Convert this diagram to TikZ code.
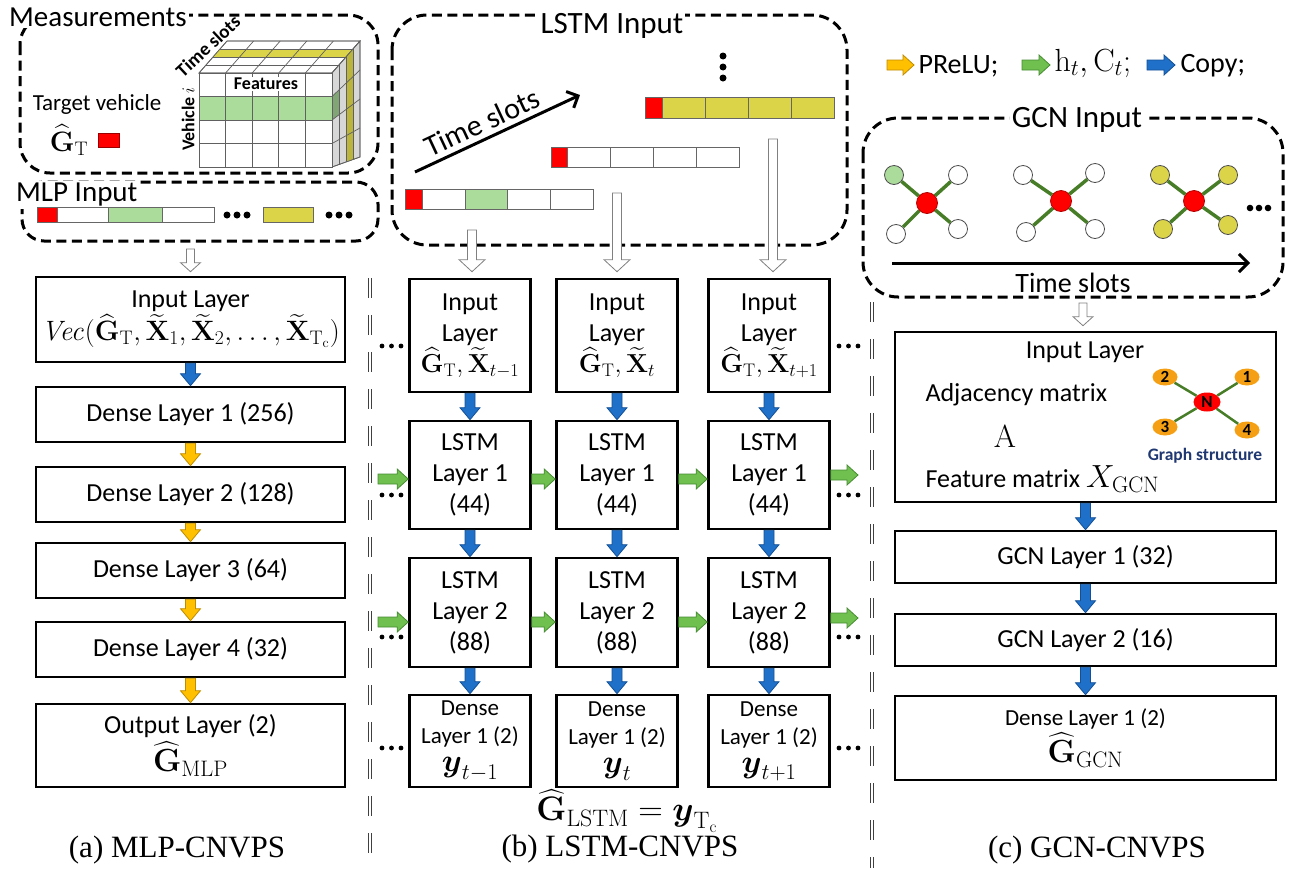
\RequirePackage{fix-cm}
\documentclass[tikz,border=0pt]{standalone}
\usepackage{amsmath}
\usepackage[no-math]{fontspec}
\setmainfont{Carlito}
\newfontfamily\capfont{Liberation Serif}
\usetikzlibrary{calc,arrows.meta,shapes.geometric}
\definecolor{cgreenc}{RGB}{172,220,156}
\definecolor{cyellc}{RGB}{220,212,72}
\definecolor{cblue}{RGB}{31,112,200}
\definecolor{cblueD}{RGB}{20,80,150}
\definecolor{cyel}{RGB}{255,192,0}
\definecolor{cyelD}{RGB}{190,140,0}
\definecolor{cgrn}{RGB}{112,192,80}
\definecolor{cgrnD}{RGB}{70,140,50}
\definecolor{edgeg}{RGB}{72,125,40}
\definecolor{corange}{RGB}{245,160,20}
\definecolor{gsblue}{RGB}{31,56,114}
\definecolor{sidegray}{RGB}{215,215,215}
\tikzset{
  bv/.style n args={3}{to path={let \p1=(\tikztostart),\p2=(\tikztotarget) in
    (\x1-#1,\y1) -- (\x1+#1,\y1) -- (\x1+#1,\y2+#3) -- (\x1+#2,\y2+#3) -- (\x1,\y2) -- (\x1-#2,\y2+#3) -- (\x1-#1,\y2+#3) -- cycle}},
  bh/.style n args={3}{to path={let \p1=(\tikztostart),\p2=(\tikztotarget) in
    (\x1,\y1-#1) -- (\x1,\y1+#1) -- (\x2-#3,\y1+#1) -- (\x2-#3,\y1+#2) -- (\x2,\y1) -- (\x2-#3,\y1-#2) -- (\x2-#3,\y1-#1) -- cycle}},
  bluefill/.style={fill=cblue, draw=cblueD, line width=0.8pt},
  yelfill/.style={fill=cyel, draw=cyelD, line width=0.8pt},
  grnfill/.style={fill=cgrn, draw=cgrnD, line width=0.8pt},
  copyar/.style={bv={5pt}{10pt}{12pt}, bluefill},
  prelu/.style={bv={5pt}{10pt}{12pt}, yelfill},
  hcar/.style={bh={5pt}{10pt}{11pt}, grnfill},
  hollowbig/.style={bv={4.5pt}{13pt}{12pt}, fill=white, draw=gray, line width=0.8pt},
  hollowsm/.style={bv={4pt}{10pt}{9pt}, fill=white, draw=gray, line width=0.8pt},
  box/.style={draw, line width=2.6pt, fill=white, align=center, inner sep=0pt, font=\fontsize{26}{31}\selectfont},
  dbox/.style={line width=3pt, dash pattern=on 10pt off 5.5pt},
  ttl/.style={fill=white, inner sep=2pt, font=\fontsize{29}{30}\selectfont},
  cellst/.style={draw=gray!80!black, line width=0.8pt},
  cubeline/.style={draw=gray!75!black, line width=0.7pt},
  divd/.style={draw=black!75, line width=1pt, dash pattern=on 20pt off 17pt},
  gnode/.style={circle, draw=gray!60!black, line width=0.8pt, minimum size=19pt, inner sep=0pt},
  gedge/.style={draw=edgeg, line width=3.5pt},
  onode/.style={ellipse, fill=corange, minimum width=25pt, minimum height=17pt, inner sep=0pt, font=\bfseries\fontsize{17}{17}\selectfont},
  capt/.style={font=\capfont\fontsize{31}{31}\selectfont},
}
\begin{document}
\begin{tikzpicture}[x=1pt,y=-1pt]
\useasboundingbox (0,0) rectangle (1290,868);

% ================= (a) MLP =================
\draw[dbox, rounded corners=30pt] (20,15) rectangle (378,173);
\node[ttl, anchor=west] (meas) at (7,17) {Measurements};
\node[font=\fontsize{23}{26}\selectfont] (tv) at (97,104) {Target vehicle};
\node[font=\fontsize{28}{28}\selectfont] (gt) at (69,140) {$\widehat{\mathbf{G}}_{\mathrm{T}}$};
\filldraw[fill=red, draw=red!60!black, line width=0.5pt] (98,133) rectangle (119,147);

% cube: top face
\filldraw[fill=white, cubeline] (199,73) -- (227,41) -- (360,41) -- (332,73) -- cycle;
\fill[cyellc] (213,57) -- (220,49) -- (353,49) -- (346,57) -- cycle;
\foreach \ox/\oy in {7/8,14/16,21/24} \draw[cubeline] ({199+\ox},{73-\oy}) -- ({332+\ox},{73-\oy});
\foreach \k in {1,...,4} \draw[cubeline] ({199+26.6*\k},73) -- ({227+26.6*\k},41);
\draw[cubeline] (199,73) -- (227,41) -- (360,41) -- (332,73) -- cycle;
% cube: side face
\filldraw[fill=sidegray, cubeline] (332,73) -- (360,41) -- (360,157) -- (332,167) -- cycle;
\fill[cyellc!85!black] (346,57) -- (353,49) -- (353,159.5) -- (346,162) -- cycle;
\fill[cgreenc!75!black] (332,96.5) -- (339,89.9) -- (339,114.75) -- (332,120) -- cycle;
\draw[cubeline] (332,96.5) -- (360,70) (332,120) -- (360,99) (332,143.5) -- (360,128);
\draw[cubeline] (339,65) -- (339,164.5) (346,57) -- (346,162) (353,49) -- (353,159.5);
\draw[cubeline] (332,73) -- (360,41) -- (360,157) -- (332,167) -- cycle;
% cube: front face
\fill[white] (199,73) rectangle (332,167);
\fill[cgreenc] (199,96.5) rectangle (332,120);
\foreach \k in {1,...,4} \draw[cubeline] ({199+26.6*\k},73) -- ({199+26.6*\k},167);
\foreach \yy in {96.5,120,143.5} \draw[cubeline] (199,\yy) -- (332,\yy);
\draw[cubeline] (199,73) rectangle (332,167);
\node[fill=white, inner sep=1pt, font=\bfseries\fontsize{18}{18}\selectfont] (featl) at (266,84) {Features};
\node[rotate=90, font=\bfseries\fontsize{18}{18}\selectfont] (veh) at (188,119) {Vehicle $i$};
\node[rotate=43, font=\bfseries\fontsize{19}{19}\selectfont] (tsc) at (208,46) {Time slots};

% MLP input
\draw[dbox, rounded corners=22pt] (22,182) rectangle (378,241);
\node[ttl, anchor=west] (mlpt) at (14,195) {MLP Input};
\filldraw[fill=red, cellst] (37,207) rectangle (57,222);
\filldraw[fill=white, cellst] (57,207) rectangle (108,222);
\filldraw[fill=cgreenc, cellst] (108,207) rectangle (162,222);
\filldraw[fill=white, cellst] (162,207) rectangle (214,222);
\filldraw[fill=cyellc, cellst] (263,207) rectangle (313,222);
\foreach \xx in {227,237,247,329,339,349} \fill (\xx,215) circle (3.5pt);

% MLP layers
\node[box, minimum width=309pt, minimum height=85pt] (in) at (190.5,319.5)
  {Input Layer\\[2pt]{\fontsize{28}{30}\selectfont $\mathit{Vec}(\widehat{\mathbf{G}}_{\mathrm{T}},\widetilde{\mathbf{X}}_{1},\widetilde{\mathbf{X}}_{2},\ldots,\widetilde{\mathbf{X}}_{\mathrm{T_c}})$}};
\node[box, minimum width=309pt, minimum height=55pt] (d1) at (190.5,414.5) {Dense Layer 1 (256)};
\node[box, minimum width=309pt, minimum height=55pt] (d2) at (190.5,494.5) {Dense Layer 2 (128)};
\node[box, minimum width=309pt, minimum height=55pt] (d3) at (190.5,570.5) {Dense Layer 3 (64)};
\node[box, minimum width=309pt, minimum height=55pt] (d4) at (190.5,649.5) {Dense Layer 4 (32)};
\node[box, minimum width=309pt, minimum height=83pt] (mo) at (190.5,745.5)
  {Output Layer (2)\\[3pt]{\fontsize{32}{32}\selectfont$\widehat{\mathbf{G}}_{\mathrm{MLP}}$}};
\coordinate (ma) at (190.5,249);
\draw[hollowsm] (ma) to ([yshift=4pt]in.north);
\draw[copyar] (in.south) to (d1.north);
\draw[prelu] (d1.south) to (d2.north);
\draw[prelu] (d2.south) to (d3.north);
\draw[prelu] (d3.south) to (d4.north);
\draw[prelu] (d4.south) to (mo.north);
\node[capt] (capa) at (177,850) {(a) MLP-CNVPS};

% dividers
\draw[divd] (368.5,278) -- (368.5,868);
\draw[divd] (371.5,278) -- (371.5,868);
\draw[divd] (870.5,302) -- (870.5,868);
\draw[divd] (873.5,302) -- (873.5,868);

% ================= (b) LSTM =================
\draw[dbox, rounded corners=35pt] (392,15) rectangle (847,245);
\node[ttl, font=\fontsize{31}{31}\selectfont] (lstmt) at (612,26) {LSTM Input};
\coordinate (tsa) at (415,172);
\coordinate (tsb) at (580,95);
\draw[line width=3pt, -{Straight Barb[length=9pt,width=18pt]}] (tsa) -- (tsb);
\node[rotate=25, font=\fontsize{30}{30}\selectfont] (tsl) at (482,122) {Time slots};
\foreach \yy in {56,67,78} \fill (723,\yy) circle (3.5pt);
% bars
\filldraw[fill=red, cellst] (405,189) rectangle (422,209);
\foreach \a/\c in {422/white,465/cgreenc,507/white,550/white} \filldraw[fill=\c, cellst] (\a,189) rectangle ({\a+43},209);
\filldraw[fill=red, cellst] (551,147) rectangle (567,167);
\foreach \a in {567,610,653,696} \filldraw[fill=white, cellst] (\a,147) rectangle ({\a+43},167);
\filldraw[fill=red, cellst] (645,97) rectangle (662,118);
\foreach \a in {662,705,748,791} \filldraw[fill=cyellc, cellst] (\a,97) rectangle ({\a+43},118);

% LSTM boxes
\node[box, minimum width=121pt, minimum height=113pt] (i1) at (470,335.5) {Input\\Layer\\$\widehat{\mathbf{G}}_{\mathrm{T}},\widetilde{\mathbf{X}}_{t-1}$};
\node[box, minimum width=121pt, minimum height=113pt] (i2) at (617,335.5) {Input\\Layer\\$\widehat{\mathbf{G}}_{\mathrm{T}},\widetilde{\mathbf{X}}_{t}$};
\node[box, minimum width=121pt, minimum height=113pt] (i3) at (769,335.5) {Input\\Layer\\$\widehat{\mathbf{G}}_{\mathrm{T}},\widetilde{\mathbf{X}}_{t+1}$};
\node[box, minimum width=121pt, minimum height=108pt] (la1) at (470,475) {LSTM\\Layer 1\\(44)};
\node[box, minimum width=121pt, minimum height=108pt] (la2) at (617,475) {LSTM\\Layer 1\\(44)};
\node[box, minimum width=121pt, minimum height=108pt] (la3) at (769,475) {LSTM\\Layer 1\\(44)};
\node[box, minimum width=121pt, minimum height=109pt] (lb1) at (470,612.5) {LSTM\\Layer 2\\(88)};
\node[box, minimum width=121pt, minimum height=109pt] (lb2) at (617,612.5) {LSTM\\Layer 2\\(88)};
\node[box, minimum width=121pt, minimum height=109pt] (lb3) at (769,612.5) {LSTM\\Layer 2\\(88)};
\node[box, minimum width=121pt, minimum height=92pt, font=\fontsize{23}{28}\selectfont] (dn1) at (470,741) {Dense\\Layer 1 (2)\\{\fontsize{32}{28}\selectfont$\boldsymbol{y}_{t-1}$}};
\node[box, minimum width=121pt, minimum height=92pt, font=\fontsize{23}{28}\selectfont] (dn2) at (617,741) {Dense\\Layer 1 (2)\\{\fontsize{32}{28}\selectfont$\boldsymbol{y}_{t}$}};
\node[box, minimum width=121pt, minimum height=92pt, font=\fontsize{23}{28}\selectfont] (dn3) at (769,741) {Dense\\Layer 1 (2)\\{\fontsize{32}{28}\selectfont$\boldsymbol{y}_{t+1}$}};

% hollow input arrows
\coordinate (h1) at (472,230);
\coordinate (h2) at (617,193);
\coordinate (h3) at (773,139);
\draw[hollowbig] (h1) to ([yshift=6pt]i1.north);
\draw[hollowbig] (h2) to ([yshift=6pt]i2.north);
\draw[hollowbig] (h3) to ([yshift=6pt]i3.north);
% vertical copy arrows
\foreach \c in {1,2,3} {
  \draw[copyar] (i\c.south) to (la\c.north);
  \draw[copyar] (la\c.south) to (lb\c.north);
  \draw[copyar] (lb\c.south) to (dn\c.north);
}
% horizontal state arrows
\coordinate (ga0) at (378,479);
\coordinate (ga4) at (858,475);
\draw[hcar] (ga0) to ([yshift=-4pt]la1.west);
\draw[hcar] ([yshift=-4pt]la1.east) to ([yshift=-4pt]la2.west);
\draw[hcar] ([yshift=-4pt]la2.east) to ([yshift=-4pt]la3.west);
\draw[hcar] (la3.east) to (ga4);
\coordinate (gb0) at (378,622);
\coordinate (gb4) at (858,618);
\draw[hcar] (gb0) to ([yshift=-9.5pt]lb1.west);
\draw[hcar] ([yshift=-9.5pt]lb1.east) to ([yshift=-9.5pt]lb2.west);
\draw[hcar] ([yshift=-9.5pt]lb2.east) to ([yshift=-9.5pt]lb3.west);
\draw[hcar] ([yshift=-5.5pt]lb3.east) to (gb4);
% side dots
\foreach \yy in {346,495,637,748} {
  \foreach \xx in {382,391.5,401,839,848.5,858} \fill (\xx,\yy) circle (2.4pt);
}
\node[font=\fontsize{34}{34}\selectfont] (glstm) at (627,811) {$\widehat{\mathbf{G}}_{\mathrm{LSTM}}=\boldsymbol{y}_{\mathrm{T_c}}$};
\node[capt] (capb) at (620,849) {(b) LSTM-CNVPS};

% ================= (c) GCN =================
\coordinate (ly1) at (887,65); \coordinate (ly2) at (914,65);
\draw[bh={5pt}{10pt}{11pt}, yelfill] (ly1) to (ly2);
\node[anchor=west, font=\fontsize{28}{28}\selectfont] (lt1) at (915,66) {PReLU;};
\coordinate (lg1) at (1022,65); \coordinate (lg2) at (1050,65);
\draw[bh={5pt}{10pt}{11pt}, grnfill] (lg1) to (lg2);
\node[anchor=west, font=\fontsize{32}{32}\selectfont] (lt2) at (1051,63) {$\mathrm{h}_t,\mathrm{C}_t;$};
\coordinate (lb1c) at (1147,65); \coordinate (lb2c) at (1175,65);
\draw[bh={5pt}{10pt}{11pt}, bluefill] (lb1c) to (lb2c);
\node[anchor=west, font=\fontsize{28}{28}\selectfont] (lt3) at (1177,66) {Copy;};

\draw[dbox, rounded corners=35pt] (863,118) rectangle (1283,297);
\node[ttl, font=\fontsize{31}{31}\selectfont] (gcnt) at (1077,120) {GCN Input};
% graph 1
\node[gnode, fill=cgreenc] (ga) at (894,175) {};
\node[gnode, fill=white] (gb) at (958,175) {};
\node[gnode, fill=white] (gc) at (896,234) {};
\node[gnode, fill=white] (gd) at (958,229) {};
\node[gnode, fill=red, draw=red!70!black, minimum size=21pt] (gn) at (927,203) {};
\foreach \o in {ga,gb,gc,gd} \draw[gedge] (gn) -- (\o);
% graph 2
\node[gnode, fill=white] (ha) at (1023,175) {};
\node[gnode, fill=white] (hb) at (1095,173) {};
\node[gnode, fill=white] (hc) at (1026,232) {};
\node[gnode, fill=white] (hd) at (1095,229) {};
\node[gnode, fill=red, draw=red!70!black, minimum size=21pt] (hn) at (1061,201) {};
\foreach \o in {ha,hb,hc,hd} \draw[gedge] (hn) -- (\o);
% graph 3
\node[gnode, fill=cyellc] (ka) at (1160,175) {};
\node[gnode, fill=cyellc] (kb) at (1228,175) {};
\node[gnode, fill=cyellc] (kc) at (1163,229) {};
\node[gnode, fill=cyellc] (kd) at (1228,225) {};
\node[gnode, fill=red, draw=red!70!black, minimum size=21pt] (kn) at (1194,201) {};
\foreach \o in {ka,kb,kc,kd} \draw[gedge] (kn) -- (\o);
\foreach \xx in {1250,1259,1268} \fill (\xx,208) circle (3.3pt);
\coordinate (gt1) at (892,263);
\coordinate (gt2) at (1250,263);
\draw[line width=3pt, -{Straight Barb[length=9pt,width=18pt]}] (gt1) -- (gt2);
\node[font=\fontsize{28}{28}\selectfont] (gtl) at (1073,283) {Time slots};

% GCN layers
\node[box, minimum width=381pt, minimum height=170pt] (gin) at (1085.5,417) {};
\node[font=\fontsize{26}{26}\selectfont] (gil) at (1085,352) {Input Layer};
\node[anchor=west, font=\fontsize{26}{26}\selectfont] (adj) at (922,395) {Adjacency matrix};
\node[font=\fontsize{32}{32}\selectfont] (amat) at (1005,437) {$\mathrm{A}$};
\node[anchor=west, font=\fontsize{26}{26}\selectfont] (featm) at (922,479) {Feature matrix {\fontsize{32}{32}\selectfont$X_{\mathrm{GCN}}$}};
\node[onode] (s2) at (1165,377) {2};
\node[onode] (s1) at (1247,377) {1};
\node[onode] (s3) at (1165,427) {3};
\node[onode] (s4) at (1247,430) {4};
\node[onode, fill=red, minimum width=27pt, minimum height=19pt] (sn) at (1207,402) {N};
\foreach \o in {s1,s2,s3,s4} \draw[draw=edgeg, line width=2.5pt] (sn) -- (\o);
\node[text=gsblue, font=\bfseries\fontsize{17.5}{17.5}\selectfont] (gsl) at (1205,456) {Graph structure};

\node[box, minimum width=381pt, minimum height=52pt] (gl1) at (1085.5,557) {GCN Layer 1 (32)};
\node[box, minimum width=381pt, minimum height=52pt] (gl2) at (1085.5,640) {GCN Layer 2 (16)};
\node[box, minimum width=381pt, minimum height=84pt] (gdn) at (1085.5,738)
  {{\fontsize{23}{26}\selectfont Dense Layer 1 (2)}\\[2pt]{\fontsize{32}{32}\selectfont$\widehat{\mathbf{G}}_{\mathrm{GCN}}$}};
\coordinate (gh) at (1083,303);
\draw[hollowsm] (gh) to ([yshift=5pt]gin.north);
\draw[copyar] (gin.south) to (gl1.north);
\draw[copyar] (gl1.south) to (gl2.north);
\draw[copyar] (gl2.south) to (gdn.north);
\node[capt] (capc) at (1097,850) {(c) GCN-CNVPS};
\end{tikzpicture}
\end{document}
